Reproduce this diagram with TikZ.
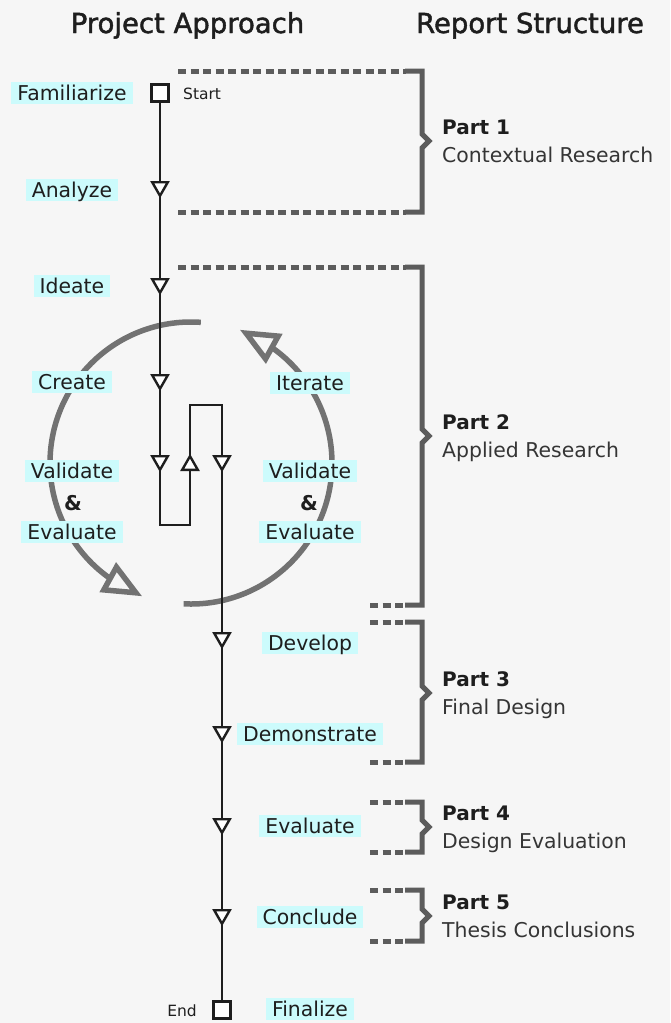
\documentclass[tikz,border=0pt]{standalone}
\usepackage{fontspec}
\setmainfont{DejaVu Sans}
\usetikzlibrary{calc}
\definecolor{paper}{HTML}{F6F6F6}
\definecolor{tag}{HTML}{CCFBFC}
\definecolor{ink}{HTML}{1E1E1E}
\definecolor{brk}{HTML}{5C5C5C}
\definecolor{loopgray}{HTML}{727272}
\tikzset{
  downtri/.pic={\filldraw[fill=white, draw=ink, line width=2.4pt, line join=miter]
    (-7.8,6.8) -- (7.8,6.8) -- (0,-6.8) -- cycle;}
}
\begin{document}
\begin{tikzpicture}[x=1pt,y=1pt,
  lbl/.style={fill=tag, text=ink, font=\fontsize{20.4}{24}\selectfont,
    inner xsep=6pt, inner ysep=1pt, text height=17pt, text depth=3pt},
  amp/.style={text=ink, font=\fontsize{20.4}{24}\selectfont\bfseries, inner sep=0pt},
  small/.style={text=ink, font=\fontsize{15.5}{18}\selectfont, inner sep=0pt},
  head/.style={text=ink, anchor=base, inner sep=0pt,
    font=\fontsize{27.5}{32}\selectfont\addfontfeature{FakeBold=1.6}},
  parttitle/.style={text=ink, anchor=base west, inner sep=0pt,
    font=\fontsize{20}{24}\selectfont\bfseries},
  partsub/.style={text=ink!90, anchor=base west, inner sep=0pt,
    font=\fontsize{20.4}{24}\selectfont},
  flow/.style={draw=ink, line width=2.5pt, line join=miter},
  box/.style={draw=ink, fill=white, line width=2.5pt, minimum size=17pt, inner sep=0pt},
  arcline/.style={draw=loopgray, line width=5.5pt},
  archead/.style={draw=loopgray, line width=5.5pt, line join=miter},
  brace/.style={draw=brk, line width=5pt, line join=miter},
  dashes/.style={draw=brk, line width=5pt, dash pattern=on 8pt off 4.5pt}
]
\fill[paper] (0,0) rectangle (670,-1023);
\useasboundingbox (0,0) rectangle (670,-1023);

% column headings
\node[head] (h1) at (187.5,-33) {Project Approach};
\node[head] (h2) at (530,-33) {Report Structure};

% iteration loop around the applied research phase
\coordinate (c) at (191,-463);
% left arc: runs anticlockwise, open head at the lower left
\coordinate (lt) at ($(c)+(247:141)$);
\coordinate (lb) at ($(c)+(235:141)$);
\draw[arcline] ($(c)+(86:141)$) arc[start angle=86, end angle=235, radius=141];
\draw[archead] ($(lb)!13pt!90:(lt)$) -- (lt) -- ($(lb)!13pt!-90:(lt)$) -- cycle;
% right arc: runs anticlockwise, open head at the upper right
\coordinate (rt) at ($(c)+(67:141)$);
\coordinate (rb) at ($(c)+(55:141)$);
\draw[arcline] ($(c)+(-93:141)$) arc[start angle=-93, end angle=55, radius=141];
\draw[archead] ($(rb)!13pt!90:(rt)$) -- (rt) -- ($(rb)!13pt!-90:(rt)$) -- cycle;

% process line
\node[box] (start) at (160,-93) {};
\coordinate (a1) at (160,-189);
\coordinate (a2) at (160,-286);
\coordinate (a3) at (160,-382);
\coordinate (a4) at (160,-463);
\coordinate (k1) at (160,-525);
\coordinate (k2) at (190,-525);
\coordinate (u1) at (190,-463);
\coordinate (k3) at (190,-405);
\coordinate (k4) at (222,-405);
\coordinate (b1) at (222,-463);
\coordinate (b2) at (222,-640);
\coordinate (b3) at (222,-734);
\coordinate (b4) at (222,-826);
\coordinate (b5) at (222,-917);
\node[box] (end) at (222,-1010) {};

\draw[flow] (start) -- (a1) -- (a2) -- (a3) -- (a4) -- (k1) -- (k2) -- (u1)
  -- (k3) -- (k4) -- (b1) -- (b2) -- (b3) -- (b4) -- (b5) -- (end);
\node[box] at (start) {};
\node[box] at (end) {};
\foreach \p in {a1,a2,a3,a4,b1,b2,b3,b4,b5} \pic at (\p) {downtri};
\pic[rotate=180] at (u1) {downtri};

\node[small, anchor=west] (st) at (183,-94) {Start};
\node[small, anchor=east] (en) at (197,-1011) {End};

% step labels
\node[lbl] (l1) at (72,-93) {Familiarize};
\node[lbl] (l2) at (72,-190) {Analyze};
\node[lbl] (l3) at (72,-286) {Ideate};
\node[lbl] (l4) at (72,-382) {Create};
\node[lbl] (l5) at (72,-471) {Validate};
\node[amp] (l6) at (73,-503) {\&};
\node[lbl] (l7) at (72,-532) {Evaluate};

\node[lbl] (r1) at (310,-383) {Iterate};
\node[lbl] (r2) at (310,-471) {Validate};
\node[amp] (r3) at (309,-503) {\&};
\node[lbl] (r4) at (310,-532) {Evaluate};
\node[lbl] (r5) at (310,-643) {Develop};
\node[lbl] (r6) at (310,-734) {Demonstrate};
\node[lbl] (r7) at (310,-826) {Evaluate};
\node[lbl] (r8) at (310,-917) {Conclude};
\node[lbl] (r9) at (310,-1009) {Finalize};

% report structure brackets
\foreach \ta/\ba/\top/\bot/\tip in
  {178/178/71/212/141, 178/370/267/605/436, 370/370/622/762/693,
   370/370/802/852/827, 370/370/890/941/916}{
  \draw[dashes] (\ta,-\top) -- (406,-\top);
  \draw[dashes] (\ba,-\bot) -- (406,-\bot);
  \draw[brace] (405,-\top) -- (422,-\top) -- (422,-\tip+7) -- (429,-\tip)
    -- (422,-\tip-7) -- (422,-\bot) -- (405,-\bot);
}

\node[parttitle] (p1t) at (442,-134.5) {Part 1};
\node[partsub] (p1s) at (442,-162.5) {Contextual Research};
\node[parttitle] (p2t) at (442,-429.5) {Part 2};
\node[partsub] (p2s) at (442,-457.5) {Applied Research};
\node[parttitle] (p3t) at (442,-686.5) {Part 3};
\node[partsub] (p3s) at (442,-714.5) {Final Design};
\node[parttitle] (p4t) at (442,-820.5) {Part 4};
\node[partsub] (p4s) at (442,-848.5) {Design Evaluation};
\node[parttitle] (p5t) at (442,-909.5) {Part 5};
\node[partsub] (p5s) at (442,-937.5) {Thesis Conclusions};
\end{tikzpicture}
\end{document}
